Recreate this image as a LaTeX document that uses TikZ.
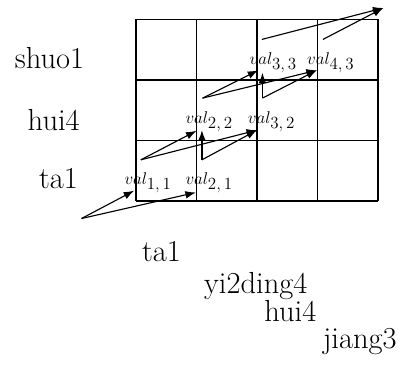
\documentclass[tikz,border=0pt]{standalone}
\usepackage{amsmath,amssymb}
\usepackage{xcolor}
\usepackage{tikz}
\usetikzlibrary{positioning,arrows.meta}

\begin{document}
\begin{tikzpicture}[x=1.5cm, y=1.5cm,
    cell/.style={line width=1.3pt},
    word/.style={anchor=base, inner sep=0pt, font=\fontsize{21.5}{26}\selectfont},
    val/.style={anchor=base, inner sep=0pt, font=\fontsize{12.5}{14}\selectfont},
    arr/.style={-{Latex[length=2.6mm, width=1.9mm]}, line width=0.8pt}
  ]
  \useasboundingbox (-2.248,-2.744) rectangle (4.397,3.322);

  % ---------------- grid ----------------
  \draw[cell, step=1.5cm] (0,0) grid (4,3);

  % ---------------- words ----------------
  \node[word] (ys) at (-1.43,2.19) {shuo1};
  \node[word] (yh) at (-1.36,1.17) {hui4};
  \node[word] (yt) at (-1.28,0.21) {ta1};
  \node[word] (xt) at (0.42,-1.00) {ta1};
  \node[word] (xy) at (1.98,-1.53) {yi2ding4};
  \node[word] (xh) at (2.55,-2.00) {hui4};
  \node[word] (xj) at (3.70,-2.44) {jiang3};

  % ---------------- cell values ----------------
  \node[val] (l11) at (0.20,0.27) {$val_{\textstyle 1,1}$};
  \node[val] (l21) at (1.21,0.27) {$val_{\textstyle 2,1}$};
  \node[val] (l22) at (1.21,1.28) {$val_{\textstyle 2,2}$};
  \node[val] (l32) at (2.24,1.28) {$val_{\textstyle 3,2}$};
  \node[val] (l33) at (2.27,2.25) {$val_{\textstyle 3,3}$};
  \node[val] (l43) at (3.22,2.25) {$val_{\textstyle 4,3}$};

  % ---------------- arrow ends ----------------
  \coordinate (o1)  at (-0.90,-0.29);
  \coordinate (v11) at (-0.03,0.17);
  \coordinate (v21) at (0.99,0.14);
  \coordinate (o2)  at (0.08,0.68);
  \coordinate (p2)  at (1.09,0.68);
  \coordinate (v22) at (1.00,1.16);
  \coordinate (u22) at (1.09,1.17);
  \coordinate (v32) at (2.00,1.17);
  \coordinate (o3)  at (1.10,1.70);
  \coordinate (p3)  at (2.09,1.70);
  \coordinate (v33) at (2.02,2.16);
  \coordinate (u33) at (2.09,2.12);
  \coordinate (v43) at (2.99,2.16);
  \coordinate (o4)  at (2.08,2.67);
  \coordinate (p4)  at (3.09,2.67);
  \coordinate (v54) at (4.09,3.19);

  \draw[arr] (o1) -- (v11);
  \draw[arr] (o1) -- (v21);
  \draw[arr] (o2) -- (v22);
  \draw[arr] (o2) -- (v32);
  \draw[arr] (p2) -- (u22);
  \draw[arr] (p2) -- (v32);
  \draw[arr] (o3) -- (v33);
  \draw[arr] (o3) -- (v43);
  \draw[arr] (p3) -- (u33);
  \draw[arr] (p3) -- (v43);
  \draw[arr] (o4) -- (v54);
  \draw[arr] (p4) -- (v54);
\end{tikzpicture}
\end{document}
